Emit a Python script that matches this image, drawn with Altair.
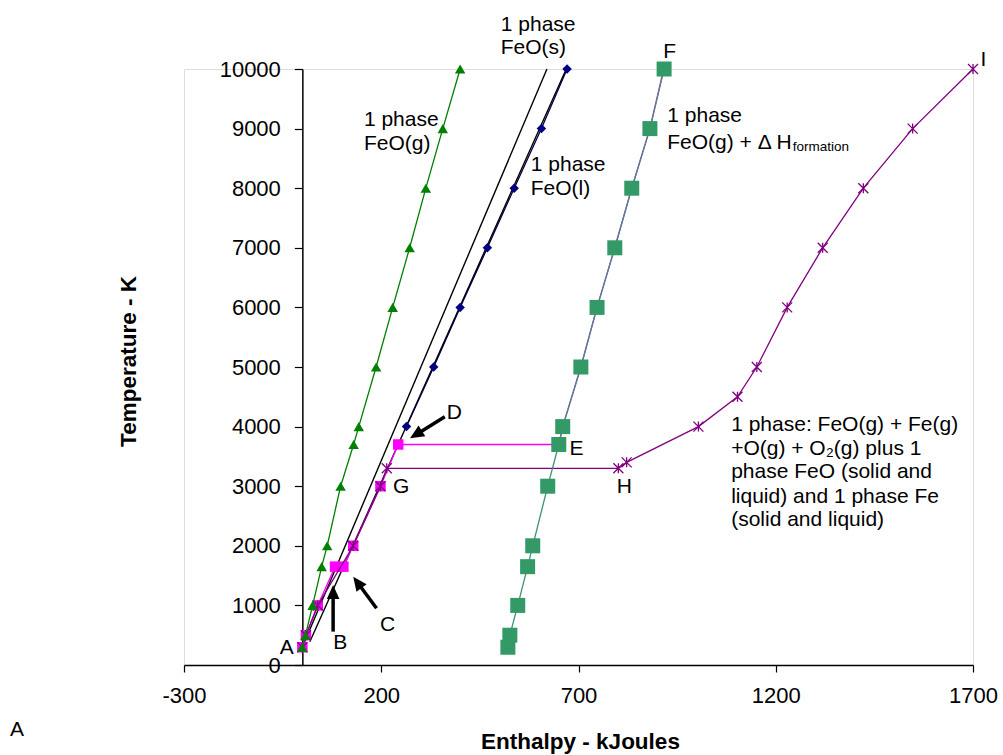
import math
import altair as alt
import pandas as pd

# ---------------- data (Enthalpy in kJ, Temperature in K) ----------------
gas_T = [298, 500, 1000, 1650, 2000, 3000, 3700, 4000, 5000, 6000, 7000, 8000, 9000, 10000]
gas_H = [0, 8, 26, 49, 63, 97, 130, 143, 187, 229, 272, 313, 356, 400]

form_T = [298, 500, 1000, 1650, 2000, 3000, 3700, 4000, 5000, 6000, 7000, 8000, 9000, 10000]
form_H = [521, 526, 546, 571, 584, 622, 650, 660, 706, 747, 792, 835, 881, 917]

liq_T = [4000, 5000, 6000, 7000, 8000, 9000, 10000]
liq_H = [264, 333, 400, 469, 537, 606, 671]

solid_line_T = [298, 10000]
solid_line_H = [0, 620]
liq_line_T = [390, 10000]
liq_line_H = [19, 669]

feo_T = [298, 500, 1000, 1650, 1650, 2000, 3000, 3700, 3700, 4000, 5000, 6000, 7000, 8000, 9000, 10000]
feo_H = [0, 9, 39, 83, 104, 129, 198, 243, 650, 660, 706, 747, 792, 835, 881, 916]

mix_T = [298, 500, 1000, 2000, 3000, 3300, 3300, 3400, 4000, 4500, 5000, 6000, 7000, 8000, 9000, 10000]
mix_H = [0, 9, 39, 129, 198, 214, 801, 822, 1004, 1103, 1152, 1229, 1319, 1422, 1547, 1700]

# point letters
letter_txt = ["A", "B", "C", "D", "E", "F", "G", "H", "I"]
letter_H = [-57, 78.5, 197, 366, 677, 915, 230, 797, 1719]
letter_T = [285, 364, 671, 4233, 3619, 10290, 2982, 2982, 10151]

# phase annotations (one row per line of text)
note_txt = ["1 phase", "FeO(s)", "1 phase", "FeO(g)", "1 phase", "FeO(l)",
            "1 phase", "FeO(g) + \u0394 H",
            "1 phase: FeO(g) + Fe(g)", "+O(g) + O\u2082(g) plus 1",
            "phase FeO (solid and", "liquid) and 1 phase Fe", "(solid and liquid)"]
note_H = [503, 503, 156, 156, 579, 579, 925, 925, 1087, 1087, 1087, 1087, 1087]
note_T = [10738, 10352, 9144, 8742, 8389, 7987, 9211, 8758, 4027, 3619, 3243, 2824, 2433]

sub_txt = ["formation"]
sub_H = [1243]
sub_T = [8691]

# arrows: tail -> tip
arrow_tail_H = [78, 188, 361]
arrow_tail_T = [560, 951, 4166]
arrow_tip_H = [78, 129, 273]
arrow_tip_T = [1342, 1482, 3803]

X_TICKS = [-300, 200, 700, 1200, 1700]
Y_TICKS = list(range(0, 10001, 1000))

# ---------------- layout ----------------
W, HGT = 789, 596
X_DOM = [-300, 1700]
Y_DOM = [0, 10000]
sx = W / (X_DOM[1] - X_DOM[0])
sy = HGT / (Y_DOM[1] - Y_DOM[0])
FONT = "Liberation Sans"
Y_AXIS_X = -X_DOM[0] * sx  # pixel position of H = 0 inside the plot

xs = alt.Scale(domain=X_DOM, nice=False, zero=False)
ys = alt.Scale(domain=Y_DOM, nice=False, zero=False)

x_axis = alt.Axis(
    values=X_TICKS, title="Enthalpy - kJoules", grid=False,
    domainColor="black", domainWidth=1.5, tickColor="black", tickSize=7, tickWidth=1.2,
    labelPadding=13, labelFlush=False, labelOverlap=False, labelFontSize=22,
    labelColor="black", labelFont=FONT, labelExpr="'' + datum.value",
    titleFont=FONT, titleFontSize=22.5, titleFontWeight="bold", titleColor="black",
    titleX=396, titleY=83, titleAlign="center", titleBaseline="alphabetic",
)
y_axis = alt.Axis(
    values=Y_TICKS, title="Temperature - K", grid=False, offset=-Y_AXIS_X,
    domainColor="black", domainWidth=1.5, tickColor="black", tickSize=8, tickWidth=1.2,
    labelPadding=14, labelFlush=False, labelOverlap=False, labelFontSize=22,
    labelColor="black", labelFont=FONT, labelExpr="'' + datum.value",
    titleFont=FONT, titleFontSize=22.5, titleFontWeight="bold", titleColor="black",
    titleX=128 - 184 - Y_AXIS_X, titleY=292, titleAngle=270,
    titleAlign="center", titleBaseline="middle",
)


def frame(H, T, **extra):
    d = {"H": H, "T": T, "i": list(range(len(H)))}
    d.update(extra)
    return pd.DataFrame(d)


def xy(ch):
    return ch.encode(
        x=alt.X("H:Q", scale=xs, axis=x_axis),
        y=alt.Y("T:Q", scale=ys, axis=y_axis),
    )


def series(df, color, shape, size, filled=True, sw=1.3, line_color=None):
    line = xy(alt.Chart(df).mark_line(color=line_color or color, strokeWidth=sw)).encode(
        order=alt.Order("i:Q"))
    pts = xy(alt.Chart(df).mark_point(shape=shape, size=size, filled=filled,
                                      color=color, opacity=1, strokeWidth=1.3))
    return [line, pts]


layers = []

# black reference lines
for hh, tt in [(solid_line_H, solid_line_T), (liq_line_H, liq_line_T)]:
    layers.append(xy(alt.Chart(frame(hh, tt)).mark_line(color="black", strokeWidth=1.4)).encode(
        order=alt.Order("i:Q")))

ASTERISK = "M-1,-1L1,1M-1,1L1,-1M0,-1L0,1"
layers += series(frame(feo_H, feo_T), "#FF00FF", "square", 110)
layers += series(frame(mix_H, mix_T), "#800080", ASTERISK, 100, filled=False)
layers += series(frame(form_H, form_T), "#339966", "square", 225, line_color="#3f8f7a")
layers += series(frame(liq_H, liq_T), "#000080", "diamond", 90, line_color="#000040")
layers += series(frame(gas_H, gas_T), "#008000", "triangle-up", 110)

# arrows
HEAD = 14.0
rows = []
for th, tt, ph, pt in zip(arrow_tail_H, arrow_tail_T, arrow_tip_H, arrow_tip_T):
    dxp = (ph - th) * sx
    dyp = -(pt - tt) * sy
    ln = math.hypot(dxp, dyp)
    ux, uy = dxp / ln, dyp / ln
    ang = math.degrees(math.atan2(dxp, -dyp)) % 360
    end_H = ph - ux * HEAD * 0.6 / sx
    end_T = pt + uy * HEAD * 0.6 / sy
    rows.append({"H": th, "T": tt, "H2": end_H, "T2": end_T, "tipH": ph, "tipT": pt, "ang": ang})
arr = pd.DataFrame(rows)
layers.append(alt.Chart(arr).mark_rule(color="black", strokeWidth=3.5).encode(
    x=alt.X("H:Q", scale=xs, axis=x_axis), y=alt.Y("T:Q", scale=ys, axis=y_axis),
    x2="H2:Q", y2="T2:Q"))
layers.append(alt.Chart(arr).mark_point(
    shape="M0,0L0.45,1L-0.45,1Z", filled=True, color="black", opacity=1,
    size=(2 * HEAD) ** 2).encode(
    x=alt.X("tipH:Q", scale=xs, axis=x_axis), y=alt.Y("tipT:Q", scale=ys, axis=y_axis),
    angle=alt.Angle("ang:Q", scale=None)))

# text annotations
txt_style = dict(align="left", baseline="middle", font=FONT, fontSize=21, color="black")
layers.append(xy(alt.Chart(frame(letter_H, letter_T, txt=letter_txt)).mark_text(**txt_style)).encode(
    text="txt:N"))
layers.append(xy(alt.Chart(frame(note_H, note_T, txt=note_txt)).mark_text(**txt_style)).encode(
    text="txt:N"))
layers.append(xy(alt.Chart(frame(sub_H, sub_T, txt=sub_txt)).mark_text(
    align="left", baseline="middle", font=FONT, fontSize=13.5, color="black")).encode(text="txt:N"))

# stray label at bottom-left of the original figure
layers.append(alt.Chart(pd.DataFrame({"txt": ["A"]})).mark_text(
    align="center", baseline="middle", font=FONT, fontSize=21, color="black").encode(
    x=alt.value(17 - 184), y=alt.value(730 - 69), text="txt:N"))

chart = alt.layer(*layers).properties(
    width=W, height=HGT,
    padding={"left": 184, "top": 69, "right": 30, "bottom": 90},
    autosize=alt.AutoSizeParams(type="none"),
    background="white",
).configure_view(stroke="#8c8c8c", strokeWidth=1.5).configure(font=FONT)

chart.save("out.html", embed_options={"renderer": "svg", "actions": False})
